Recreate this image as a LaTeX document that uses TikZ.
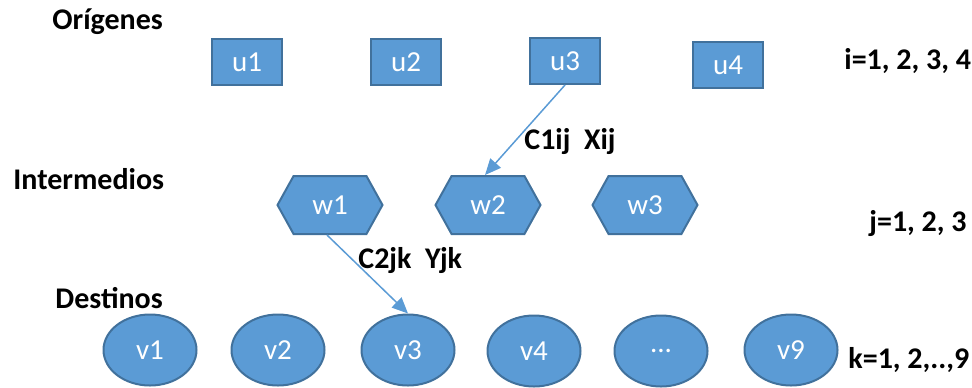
\documentclass[tikz,border=0pt]{standalone}
\usepackage{fontspec}
\setmainfont{Carlito}
\usepackage{xcolor}
\usepackage{tikz}
\usetikzlibrary{arrows.meta,shapes.symbols,shapes.geometric}
\definecolor{shapeblue}{HTML}{5B9BD5}
\definecolor{shapeedge}{HTML}{41719C}
\tikzset{
	>={Triangle[length=8pt,width=7pt]},
	every edge/.style={draw=shapeblue, line width=0.75pt},
}

\begin{document}
\begin{tikzpicture}
	[x=0.5pt, y=-0.5pt,
		% STYLES
		% The origin style is used for the sources
		origin/.style={rectangle, draw=shapeedge, fill=shapeblue, line width=1pt,
				minimum width=35pt, minimum height=23pt, text=white,
				font=\fontsize{14.5}{16}\selectfont},
		% The middle style is used for the intermediate points
		middle/.style={signal, signal to=west and east, signal pointer angle=122,
				draw=shapeedge, fill=shapeblue, line width=1pt, inner sep=0pt,
				minimum width=52.5pt, minimum height=29pt, text=white,
				font=\fontsize{14.5}{16}\selectfont},
		% The goal style is used for the destinations
		goal/.style={ellipse, draw=shapeedge, fill=shapeblue, line width=1pt,
				inner sep=0pt, minimum width=46.5pt, minimum height=35.5pt,
				text=white, font=\fontsize{14.5}{16}\selectfont},
		% The tag style is used for the bold texts
		tag/.style={anchor=base west, inner sep=0pt,
				font=\bfseries\fontsize{15}{18}\selectfont}]

	\useasboundingbox (0,0) rectangle (972,387);

	% Level names
	\node [tag] (lorig) at (52,29) {Orígenes};
	\node [tag] (linter) at (13,189) {Intermedios};
	\node [tag] (ldest) at (55,308) {Destinos};

	% Index ranges
	\node [tag] (ri) at (844,69) {i=1, 2, 3, 4};
	\node [tag] (rj) at (869,231) {j=1, 2, 3};
	\node [tag] (rk) at (848,368) {k=1, 2,..,9};

	% Origins
	\node [origin] (u1) at (247,62) {u1};
	\node [origin] (u2) at (406,62) {u2};
	\node [origin] (u3) at (565,61) {u3};
	\node [origin] (u4) at (728,65) {u4};

	% Intermediate points
	\node [middle] (w1) at (330,205) {w1};
	\node [middle] (w2) at (488,205) {w2};
	\node [middle] (w3) at (645,205) {w3};

	% Destinations
	\node [goal] (v1) at (150,350) {v1};
	\node [goal] (v2) at (278,350) {v2};
	\node [goal] (v3) at (408,350) {v3};
	\node [goal] (v4) at (534,351) {v4};
	\node [goal] (vd) at (661,351) {...};
	\node [goal] (v9) at (791,350) {v9};

	% Costs and flows
	\node [tag] (c1) at (524,149) {C1ij\ \ Xij};
	\node [tag] (c2) at (358,268) {C2jk\ \ Yjk};

	\path[->]
	(u3.south) edge ([xshift=-1.5pt]w2.north)
	([xshift=-1.5pt]w1.south) edge (v3.north);

\end{tikzpicture}
\end{document}
